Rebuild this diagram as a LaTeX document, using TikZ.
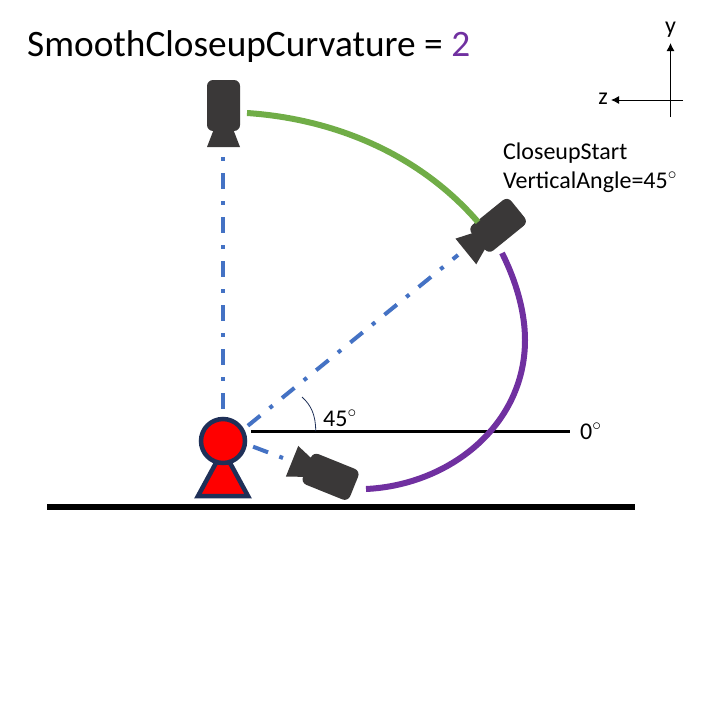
\documentclass[tikz,border=0pt]{standalone}
\usepackage{fontspec}
\setmainfont{Carlito}
\usetikzlibrary{arrows.meta}
\definecolor{camgray}{HTML}{3A3838}
\definecolor{sightblue}{HTML}{4472C4}
\definecolor{arcgreen}{HTML}{70AD47}
\definecolor{arcpurple}{HTML}{7030A0}
\definecolor{navy}{HTML}{1F3058}
\tikzset{
  camera/.pic={
    \fill[camgray] (-8,20) -- (8,20) -- (16.5,42) -- (-16.5,42) -- cycle;
    \fill[camgray, rounded corners=6pt] (-16.5,-25) rectangle (16.5,26);
  },
  sight/.style={sightblue, line width=4pt, dash pattern=on 16pt off 12pt on 4pt off 12pt},
  label/.style={inner sep=0pt, anchor=west, font=\fontsize{24}{29}\selectfont},
  axis/.style={black, line width=1pt},
  curve/.style={line width=6pt}
}
\begin{document}
\begin{tikzpicture}[x=1pt, y=-1pt]
    \useasboundingbox (0,0) rectangle (720,720);

    % Titre
    \node[inner sep=0pt, anchor=west, font=\fontsize{37.3}{44}\selectfont] (title) at (27,47) {SmoothCloseupCurvature = \textcolor{arcpurple}{2}};

    % Sol et horizon
    \coordinate (groundL) at (47,507);
    \coordinate (groundR) at (635,507);
    \draw[black, line width=6pt] (groundL) -- (groundR);
    \coordinate (horizonL) at (251,431);
    \coordinate (horizonR) at (570,431);
    \draw[black, line width=3pt] (horizonL) -- (horizonR);
    \node[label] (zeroLabel) at (580,431) {0$^{\circ}$};

    % Personnage
    \fill[red, draw=navy, line width=4.5pt, line join=miter] (223,450) -- (248,496) -- (198,496) -- cycle;
    \node[circle, fill=red, draw=navy, line width=4.5pt, minimum size=44pt, inner sep=0pt] (head) at (223,441) {};

    % Cameras
    \pic[rotate=0] at (223.5,105) {camera};
    \pic[rotate=-51] at (498.5,225) {camera};
    \pic[rotate=-112] at (331,477) {camera};

    % Lignes de visee
    \coordinate (lensTop) at (223,155);
    \coordinate (lensRight) at (458,255);
    \coordinate (lensLow) at (283,458);
    \draw[sight, shorten <=5pt] (head.30) -- (lensRight);
    \draw[sight, shorten <=6.5pt] (head.-8) -- (lensLow);
    \draw[sight, shorten <=8pt] (head.north) -- (lensTop);

    % Arcs
    \coordinate (greenStart) at (247,113);
    \coordinate (greenEnd) at (478,222);
    \draw[curve, arcgreen] (greenStart) .. controls (336,119) and (420,155) .. (greenEnd);
    \coordinate (purpleStart) at (502,253);
    \coordinate (purpleMid) at (525,340);
    \coordinate (purpleEnd) at (366,489);
    \draw[curve, arcpurple] (purpleStart) .. controls (518,285) and (525,315) .. (purpleMid)
        .. controls (525,425) and (450,485) .. (purpleEnd);

    % Angle de 45
    \coordinate (angleStart) at (315.7,431);
    \coordinate (angleEnd) at (302,397);
    \draw[navy, line width=0.8pt] (angleStart) .. controls (315.7,415) and (311,405) .. (angleEnd);
    \node[label] (angleLabel) at (323,418) {45$^{\circ}$};

    % Texte de la camera
    \node[label, align=left] (startLabel) at (503,168) {CloseupStart\\VerticalAngle=45$^{\circ}$};

    % Axes
    \coordinate (axisY) at (670.5,43);
    \coordinate (axisYend) at (670.5,117);
    \coordinate (axisZ) at (611,100);
    \coordinate (axisZend) at (683,100);
    \draw[axis, -{Latex[length=8pt,width=8pt]}] (axisYend) -- (axisY);
    \draw[axis, -{Latex[length=8pt,width=8pt]}] (axisZend) -- (axisZ);
    \node[inner sep=0pt, font=\fontsize{24}{24}\selectfont] (yLabel) at (670.5,30) {y};
    \node[inner sep=0pt, font=\fontsize{24}{24}\selectfont] (zLabel) at (603,99) {z};
\end{tikzpicture}
\end{document}
